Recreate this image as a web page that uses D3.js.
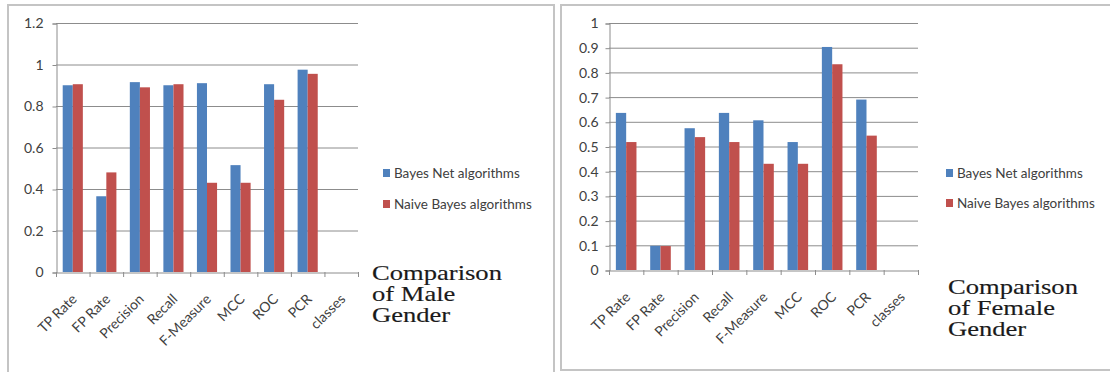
<!DOCTYPE html>
<html><head><meta charset="utf-8">
<script src="https://cdn.jsdelivr.net/npm/d3@7"></script>
<style>
html,body{margin:0;padding:0;background:#fff;}
svg{display:block;}
</style></head>
<body>
<svg id="chart" width="1110" height="372"></svg>
<script>
const categories = ["TP Rate","FP Rate","Precision","Recall","F-Measure","MCC","ROC","PCR","classes"];
const seriesNames = ["Bayes Net algorithms","Naive Bayes algorithms"];
const maleBayesNet = [0.90,0.365,0.915,0.90,0.91,0.515,0.905,0.975];
const maleNaive = [0.905,0.48,0.89,0.905,0.43,0.43,0.83,0.955];
const femaleBayesNet = [0.636,0.098,0.574,0.636,0.606,0.518,0.903,0.69];
const femaleNaive = [0.518,0.097,0.538,0.518,0.43,0.43,0.833,0.544];
const maleTicks = [0,0.2,0.4,0.6,0.8,1,1.2];
const femaleTicks = [0,0.1,0.2,0.3,0.4,0.5,0.6,0.7,0.8,0.9,1];
const maleTitle = ["Comparison","of Male","Gender"];
const femaleTitle = ["Comparison","of Female","Gender"];
const colors = ["#4F81BD","#C0504D"];

const svg = d3.select("#chart");
const labelFont = "Lato, 'Liberation Sans', sans-serif";

// panel borders
svg.append("rect").attr("x",8).attr("y",5).attr("width",546).attr("height",380)
  .attr("fill","none").attr("stroke","#c4c4c4").attr("stroke-width",2);
svg.append("rect").attr("x",561).attr("y",5).attr("width",560).attr("height",365)
  .attr("fill","none").attr("stroke","#c4c4c4").attr("stroke-width",2);

function drawChart(cfg){
  const g = svg.append("g");
  const x = d3.scaleBand().domain(categories).range([cfg.x0, cfg.x1]).padding(0);
  const y = d3.scaleLinear().domain([0, cfg.ymax]).range([cfg.y0, cfg.y1]);

  // gridlines
  g.append("g").selectAll("line").data(cfg.ticks.filter(t=>t>0)).join("line")
    .attr("x1",cfg.x0).attr("x2",cfg.x1)
    .attr("y1",d=>y(d)+0.5).attr("y2",d=>y(d)+0.5)
    .attr("stroke","#8c8c8c").attr("stroke-width",1);

  // y axis
  const yAxis = d3.axisLeft(y).tickValues(cfg.ticks).tickSize(4).tickPadding(cfg.tp)
    .tickFormat(d=>d3.format("~g")(d));
  const ya = g.append("g").attr("transform",`translate(${cfg.x0+0.5},0.5)`).call(yAxis);
  ya.select(".domain").attr("stroke","#8c8c8c");
  ya.selectAll(".tick line").attr("stroke","#8c8c8c");
  ya.selectAll("text").attr("font-family",labelFont).attr("font-size",14).attr("fill","#404040");

  // bars
  const bw = x.bandwidth()*0.3;
  [cfg.s1, cfg.s2].forEach((vals,si)=>{
    g.append("g").selectAll("rect").data(vals).join("rect")
      .attr("x",(d,i)=>x(categories[i]) + x.bandwidth()*0.2 + si*bw)
      .attr("y",d=>y(d))
      .attr("width",bw)
      .attr("height",d=>y(0)-y(d))
      .attr("fill",colors[si]);
  });

  // x axis
  const xAxis = d3.axisBottom(x).tickSize(0).tickFormat("");
  const xa = g.append("g").attr("transform",`translate(0,${cfg.y0+0.5})`).call(xAxis);
  xa.select(".domain").attr("stroke","#8c8c8c");
  // boundary ticks
  const bounds = categories.map(c=>x(c)).concat([cfg.x1]);
  g.append("g").selectAll("line").data(bounds).join("line")
    .attr("x1",d=>d+0.5).attr("x2",d=>d+0.5)
    .attr("y1",cfg.y0).attr("y2",cfg.y0+5)
    .attr("stroke","#8c8c8c");
  // rotated labels
  g.append("g").selectAll("text").data(categories).join("text")
    .attr("transform",c=>`translate(${x(c)+x.bandwidth()/2+5},${cfg.y0+28}) rotate(-45)`)
    .attr("text-anchor","end")
    .attr("font-family",labelFont).attr("font-size",14).attr("fill","#404040")
    .text(c=>c);

  // legend
  const lg = g.append("g");
  seriesNames.forEach((n,i)=>{
    lg.append("rect").attr("x",cfg.lx).attr("y",cfg.ly + i*cfg.lgap - 4).attr("width",7).attr("height",8)
      .attr("fill",colors[i]);
    lg.append("text").attr("x",cfg.lx+11).attr("y",cfg.ly + i*cfg.lgap + 5)
      .attr("font-family",labelFont).attr("font-size",13.5).attr("fill","#404040")
      .text(n);
  });

  // title
  cfg.title.forEach((t,i)=>{
    g.append("text")
      .attr("transform",`translate(${cfg.tx},${cfg.ty + i*21}) scale(1.33,1)`)
      .attr("font-family","'Liberation Serif', 'Times New Roman', serif")
      .attr("font-size",20).attr("fill","#1a1a1a")
      .attr("stroke","#1a1a1a").attr("stroke-width",0.15)
      .text(t);
  });
}

drawChart({x0:56,x1:358,y0:272,y1:23,ymax:1.2,ticks:maleTicks,s1:maleBayesNet,s2:maleNaive,tp:9,
  lx:383,ly:173,lgap:31,tx:372,ty:280,title:maleTitle});
drawChart({x0:609,x1:918,y0:270,y1:23,ymax:1,ticks:femaleTicks,s1:femaleBayesNet,s2:femaleNaive,tp:7,
  lx:946,ly:173,lgap:30,tx:948,ty:294,title:femaleTitle});
</script>
</body></html>
